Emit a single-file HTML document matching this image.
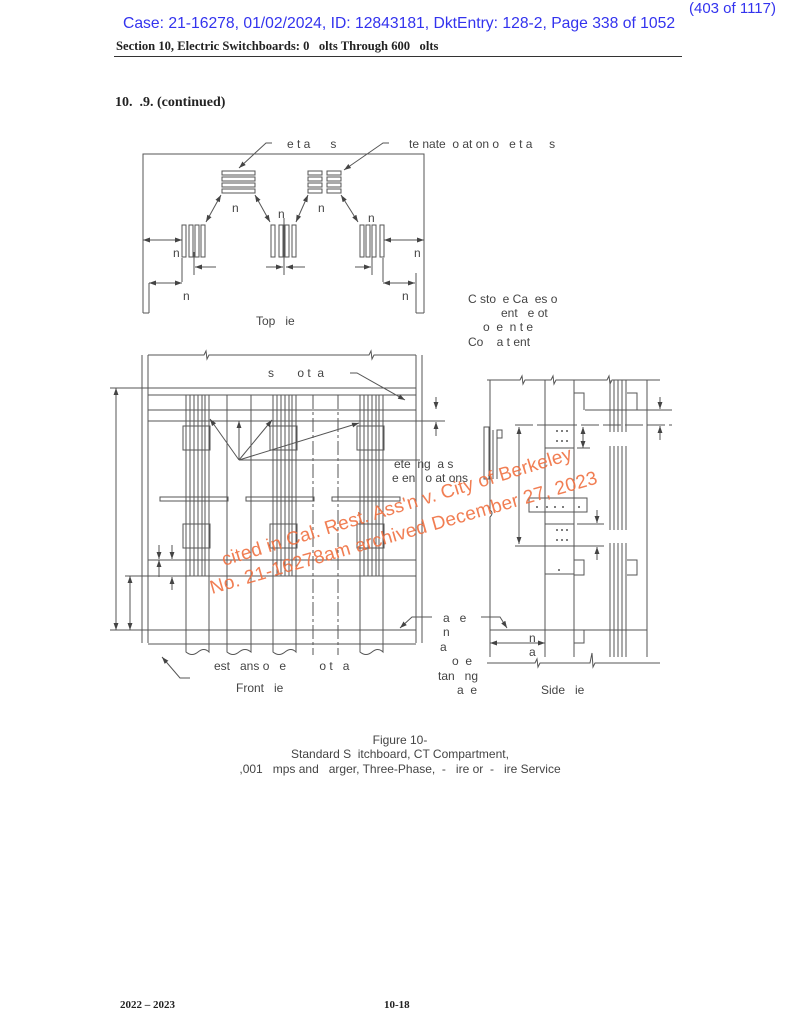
<!DOCTYPE html>
<html><head><meta charset="utf-8"><style>
html,body{margin:0;padding:0;background:#fff;}
svg{display:block}
.s{font-family:"Liberation Sans",sans-serif;fill:#444;font-size:12px}
.b{font-family:"Liberation Serif",serif;font-weight:bold;fill:#222}
</style></head><body>
<svg width="800" height="1035" viewBox="0 0 800 1035" xmlns="http://www.w3.org/2000/svg">
<defs>
<marker id="a" viewBox="0 0 10 10" refX="10" refY="5" markerWidth="7" markerHeight="7" orient="auto-start-reverse"><path d="M0,1.5L10,5L0,8.5z" fill="#444"/></marker>
</defs>
<text x="776" y="13" text-anchor="end" font-family="Liberation Sans" font-size="15" fill="#3333ee">(403 of 1117)</text>
<text x="123" y="28" font-family="Liberation Sans" font-size="15.7" fill="#3333ee">Case: 21-16278, 01/02/2024, ID: 12843181, DktEntry: 128-2, Page 338 of 1052</text>
<text x="116" y="50" class="b" font-size="12.6">Section 10, Electric Switchboards: 0 &#160;&#160;olts Through 600 &#160;&#160;olts</text>
<line x1="114" y1="56.5" x2="682" y2="56.5" stroke="#333" stroke-width="1"/>
<text x="115" y="106" class="b" font-size="14">10. &#160;.9. (continued)</text>

<g stroke="#555" stroke-width="1" fill="none">
<polyline points="143,313 143,154 424,154 424,313"/>
<line x1="149" y1="283" x2="149" y2="313"/><line x1="143" y1="313" x2="149" y2="313"/>
<line x1="416" y1="273" x2="416" y2="313"/><line x1="416" y1="313" x2="424" y2="313"/>
<rect x="222" y="171" width="33" height="4"/><rect x="222" y="177" width="33" height="4"/><rect x="222" y="183" width="33" height="4"/><rect x="222" y="189" width="33" height="4"/>
<rect x="308" y="171" width="14" height="4"/><rect x="308" y="177" width="14" height="4"/><rect x="308" y="183" width="14" height="4"/><rect x="308" y="189" width="14" height="4"/>
<rect x="327" y="171" width="14" height="4"/><rect x="327" y="177" width="14" height="4"/><rect x="327" y="183" width="14" height="4"/><rect x="327" y="189" width="14" height="4"/>
<rect x="182" y="225" width="4" height="32"/><rect x="189" y="225" width="4" height="32"/><rect x="195" y="225" width="4" height="32"/><rect x="201" y="225" width="4" height="32"/>
<rect x="271" y="225" width="4" height="32"/><rect x="279" y="225" width="4" height="32"/><rect x="285" y="225" width="4" height="32"/><rect x="292" y="225" width="4" height="32"/>
<rect x="360" y="225" width="4" height="32"/><rect x="366" y="225" width="4" height="32"/><rect x="372" y="225" width="4" height="32"/><rect x="380" y="225" width="4" height="32"/>
<line x1="284" y1="218" x2="284" y2="275"/><line x1="194" y1="252" x2="194" y2="275"/><line x1="372" y1="252" x2="372" y2="275"/>
<line x1="182" y1="258" x2="182" y2="282"/><line x1="383" y1="258" x2="383" y2="282"/>
<line x1="143" y1="240" x2="182" y2="240" marker-start="url(#a)" marker-end="url(#a)"/>
<line x1="384" y1="240" x2="424" y2="240" marker-start="url(#a)" marker-end="url(#a)"/>
<line x1="149" y1="283" x2="182" y2="283" marker-end="url(#a)" marker-start="url(#a)"/>
<line x1="383" y1="283" x2="415" y2="283" marker-start="url(#a)" marker-end="url(#a)"/>
<line x1="216" y1="267" x2="195" y2="267" marker-end="url(#a)"/>
<line x1="266" y1="267" x2="283" y2="267" marker-end="url(#a)"/>
<line x1="305" y1="267" x2="286" y2="267" marker-end="url(#a)"/>
<line x1="355" y1="267" x2="371" y2="267" marker-end="url(#a)"/>
<line x1="221" y1="195" x2="206" y2="222" marker-start="url(#a)" marker-end="url(#a)"/>
<line x1="255" y1="195" x2="270" y2="222" marker-start="url(#a)" marker-end="url(#a)"/>
<line x1="308" y1="195" x2="296" y2="222" marker-start="url(#a)" marker-end="url(#a)"/>
<line x1="341" y1="195" x2="358" y2="222" marker-start="url(#a)" marker-end="url(#a)"/>
<polyline points="272,143 266,143 239,168" marker-end="url(#a)"/>
<polyline points="389,143 383,143 344,170" marker-end="url(#a)"/>

<line x1="142" y1="355" x2="142" y2="643"/><line x1="148" y1="355" x2="148" y2="643"/>
<line x1="416" y1="355" x2="416" y2="643"/><line x1="422" y1="355" x2="422" y2="643"/>
<polyline points="148,355 204,355 206,351 207,359 209,355 369,355 371,351 372,359 374,355 416,355"/>
<line x1="110" y1="388" x2="416" y2="388"/><line x1="148" y1="395" x2="416" y2="395"/>
<line x1="148" y1="410" x2="416" y2="410"/><line x1="148" y1="421" x2="445" y2="421"/>
<line x1="148" y1="560" x2="416" y2="560"/><line x1="125" y1="576" x2="416" y2="576"/>
<line x1="110" y1="630" x2="416" y2="630"/><line x1="148" y1="644" x2="416" y2="644"/>
<g>
<line x1="186" y1="395" x2="186" y2="576"/><line x1="190" y1="395" x2="190" y2="576"/><line x1="194" y1="395" x2="194" y2="576"/><line x1="198" y1="395" x2="198" y2="576"/><line x1="202" y1="395" x2="202" y2="576"/><line x1="205" y1="395" x2="205" y2="576"/><line x1="209" y1="395" x2="209" y2="576"/>
<line x1="273" y1="395" x2="273" y2="576"/><line x1="277" y1="395" x2="277" y2="576"/><line x1="281" y1="395" x2="281" y2="576"/><line x1="285" y1="395" x2="285" y2="576"/><line x1="289" y1="395" x2="289" y2="576"/><line x1="292" y1="395" x2="292" y2="576"/><line x1="296" y1="395" x2="296" y2="576"/>
<line x1="360" y1="395" x2="360" y2="576"/><line x1="364" y1="395" x2="364" y2="576"/><line x1="368" y1="395" x2="368" y2="576"/><line x1="372" y1="395" x2="372" y2="576"/><line x1="376" y1="395" x2="376" y2="576"/><line x1="379" y1="395" x2="379" y2="576"/><line x1="383" y1="395" x2="383" y2="576"/>
</g>
<rect x="183" y="426" width="27" height="24"/><rect x="270" y="426" width="27" height="24"/><rect x="357" y="426" width="27" height="24"/>
<rect x="183" y="524" width="27" height="24"/><rect x="270" y="524" width="27" height="24"/><rect x="357" y="524" width="27" height="24"/>
<rect x="160" y="497" width="68" height="4"/><rect x="246" y="497" width="68" height="4"/><rect x="332" y="497" width="68" height="4"/>
<path d="M186,576V652q6,5 12,0t11,0V576M227,395V652q6,5 12,0t12,0V395M273,576V652q6,5 12,0t11,0V576M360,576V652q6,5 12,0t11,0V576"/>
<line x1="313" y1="395" x2="313" y2="655" stroke-dasharray="14,3,3,3"/><line x1="338" y1="395" x2="338" y2="655" stroke-dasharray="14,3,3,3"/>
<line x1="116" y1="388" x2="116" y2="630" marker-start="url(#a)" marker-end="url(#a)"/>
<line x1="130" y1="576" x2="130" y2="630" marker-start="url(#a)" marker-end="url(#a)"/>
<line x1="159" y1="545" x2="159" y2="559" marker-end="url(#a)"/><line x1="172" y1="590" x2="172" y2="577" marker-end="url(#a)"/>
<line x1="172" y1="545" x2="172" y2="559" marker-end="url(#a)"/><line x1="159" y1="577" x2="159" y2="560" marker-end="url(#a)"/>
<line x1="239" y1="460" x2="239" y2="421" marker-end="url(#a)"/>
<line x1="239" y1="460" x2="210" y2="419" marker-end="url(#a)"/>
<line x1="239" y1="460" x2="272" y2="420" marker-end="url(#a)"/>
<line x1="239" y1="460" x2="359" y2="423" marker-end="url(#a)"/>
<line x1="239" y1="460" x2="420" y2="460"/>
<line x1="436" y1="397" x2="436" y2="409" marker-end="url(#a)"/><line x1="436" y1="436" x2="436" y2="422" marker-end="url(#a)"/>
<polyline points="350,373 357,373 405,400" marker-end="url(#a)"/>
<polyline points="190,678 180,678 162,657" marker-end="url(#a)"/>
<polyline points="432,617 412,617 400,628" marker-end="url(#a)"/>

<polyline points="487,380 520,380 522,376 523,384 525,380 551,380 553,376 554,384 556,380 607,380 609,376 610,384 612,380 660,380"/>
<polyline points="487,663 535,663 537,659 538,667 540,663 590,663 592,653 593,667 595,663 660,663"/>
<path d="M490,380V510q4,3 0,7V657"/>
<line x1="545" y1="380" x2="545" y2="657"/><line x1="574" y1="380" x2="574" y2="657"/><line x1="647" y1="380" x2="647" y2="657"/>
<line x1="490" y1="630" x2="647" y2="630"/>
<line x1="515" y1="425" x2="672" y2="425" stroke-dasharray="18,4"/>
<line x1="585" y1="410" x2="672" y2="410"/>
<line x1="577" y1="448" x2="590" y2="448"/><line x1="577" y1="524" x2="604" y2="524"/><line x1="515" y1="546" x2="604" y2="546"/>
<rect x="545" y="425" width="29" height="23"/><rect x="545" y="524" width="29" height="22"/><rect x="529" y="498" width="58" height="14"/>
<rect x="545" y="546" width="29" height="28"/>
<polyline points="574,393 584,393 584,410"/><polyline points="574,560 584,560 584,575 574,575"/><polyline points="574,630 584,630 584,643 574,643"/>
<polyline points="627,393 637,393 637,410 627,410"/><polyline points="627,560 637,560 637,575 627,575"/>
<g><line x1="610" y1="380" x2="610" y2="432"/><line x1="614" y1="380" x2="614" y2="432"/><line x1="618" y1="380" x2="618" y2="432"/><line x1="622" y1="380" x2="622" y2="432"/><line x1="626" y1="380" x2="626" y2="432"/>
<line x1="610" y1="446" x2="610" y2="530"/><line x1="614" y1="446" x2="614" y2="530"/><line x1="618" y1="446" x2="618" y2="530"/><line x1="622" y1="446" x2="622" y2="530"/><line x1="626" y1="446" x2="626" y2="530"/>
<line x1="610" y1="543" x2="610" y2="657"/><line x1="614" y1="543" x2="614" y2="657"/><line x1="618" y1="543" x2="618" y2="657"/><line x1="622" y1="543" x2="622" y2="657"/><line x1="626" y1="543" x2="626" y2="657"/></g>
<rect x="484" y="427" width="5" height="52"/><line x1="493" y1="430" x2="493" y2="479"/><line x1="497" y1="430" x2="497" y2="479"/><rect x="497" y="430" width="5" height="8"/>
<line x1="519" y1="427" x2="519" y2="544" marker-start="url(#a)" marker-end="url(#a)"/>
<line x1="583" y1="427" x2="583" y2="448" marker-start="url(#a)" marker-end="url(#a)"/>
<line x1="597" y1="510" x2="597" y2="523" marker-end="url(#a)"/><line x1="597" y1="560" x2="597" y2="547" marker-end="url(#a)"/>
<line x1="660" y1="397" x2="660" y2="409" marker-end="url(#a)"/><line x1="660" y1="440" x2="660" y2="426" marker-end="url(#a)"/>
<line x1="490" y1="643" x2="545" y2="643" marker-start="url(#a)" marker-end="url(#a)"/>
<polyline points="481,617 500,617 507,628" marker-end="url(#a)"/>
</g>
<g fill="#555"><circle cx="557" cy="431" r="1"/><circle cx="562" cy="431" r="1"/><circle cx="567" cy="431" r="1"/><circle cx="557" cy="441" r="1"/><circle cx="562" cy="441" r="1"/><circle cx="567" cy="441" r="1"/>
<circle cx="537" cy="507" r="1"/><circle cx="547" cy="507" r="1"/><circle cx="555" cy="507" r="1"/><circle cx="563" cy="507" r="1"/><circle cx="579" cy="507" r="1"/>
<circle cx="557" cy="530" r="1"/><circle cx="562" cy="530" r="1"/><circle cx="567" cy="530" r="1"/><circle cx="557" cy="540" r="1"/><circle cx="562" cy="540" r="1"/><circle cx="567" cy="540" r="1"/><circle cx="559" cy="570" r="1"/></g>

<g class="s">
<text x="287" y="148">e t a &#160;&#160;&#160;&#160;&#160;s</text>
<text x="409" y="148">te nate &#160;o at on o &#160;&#160;e t a &#160;&#160;&#160;&#160;s</text>
<text x="232" y="212">n</text><text x="278" y="218">n</text><text x="318" y="212">n</text><text x="368" y="222">n</text>
<text x="173" y="257">n</text><text x="414" y="257">n</text><text x="183" y="300">n</text><text x="402" y="300">n</text>
<text x="256" y="325">Top &#160;&#160;ie</text>
<text x="468" y="303">C sto &#160;e Ca &#160;es o</text><text x="501" y="317">ent &#160;&#160;e ot</text>
<text x="483" y="331">o &#160;e &#160;n t e</text><text x="468" y="346">Co &#160;&#160;&#160;a t ent</text>
<text x="268" y="377">s &#160;&#160;&#160;&#160;&#160;&#160;o t &#160;a</text>
<text x="394" y="468">ete &#160;ng &#160;a s</text><text x="392" y="482">e en &#160;&#160;o at ons</text>
<text x="443" y="622">a &#160;&#160;e</text><text x="443" y="636">n</text><text x="440" y="651">a</text>
<text x="452" y="665">o &#160;e</text><text x="438" y="680">tan &#160;&#160;ng</text><text x="457" y="694">a &#160;e</text>
<text x="529" y="642">n</text><text x="529" y="656">a</text>
<text x="214" y="670">est &#160;&#160;ans o &#160;&#160;e &#160;&#160;&#160;&#160;&#160;&#160;&#160;&#160;&#160;o t &#160;&#160;a</text>
<text x="236" y="692">Front &#160;&#160;ie</text>
<text x="541" y="694">Side &#160;&#160;ie</text>
<text x="400" y="744" text-anchor="middle">Figure 10-</text>
<text x="400" y="758" text-anchor="middle">Standard S &#160;itchboard, CT Compartment,</text>
<text x="400" y="773" text-anchor="middle">,001 &#160;&#160;mps and &#160;&#160;arger, Three-Phase, &#160;- &#160;&#160;ire or &#160;- &#160;&#160;ire Service</text>
</g>
<g font-family="Liberation Sans" font-size="19" fill="#f07040" fill-opacity="0.9">
<text transform="translate(224,566) rotate(-17)" textLength="365">cited in Cal. Rest. Ass'n v. City of Berkeley</text>
<text transform="translate(212,594) rotate(-16)" textLength="402">No. 21-16278am archived December 27, 2023</text>
</g>
<text x="120" y="1008" class="b" font-size="11">2022 – 2023</text>
<text x="384" y="1008" class="b" font-size="11">10-18</text>
</svg>
</body></html>
